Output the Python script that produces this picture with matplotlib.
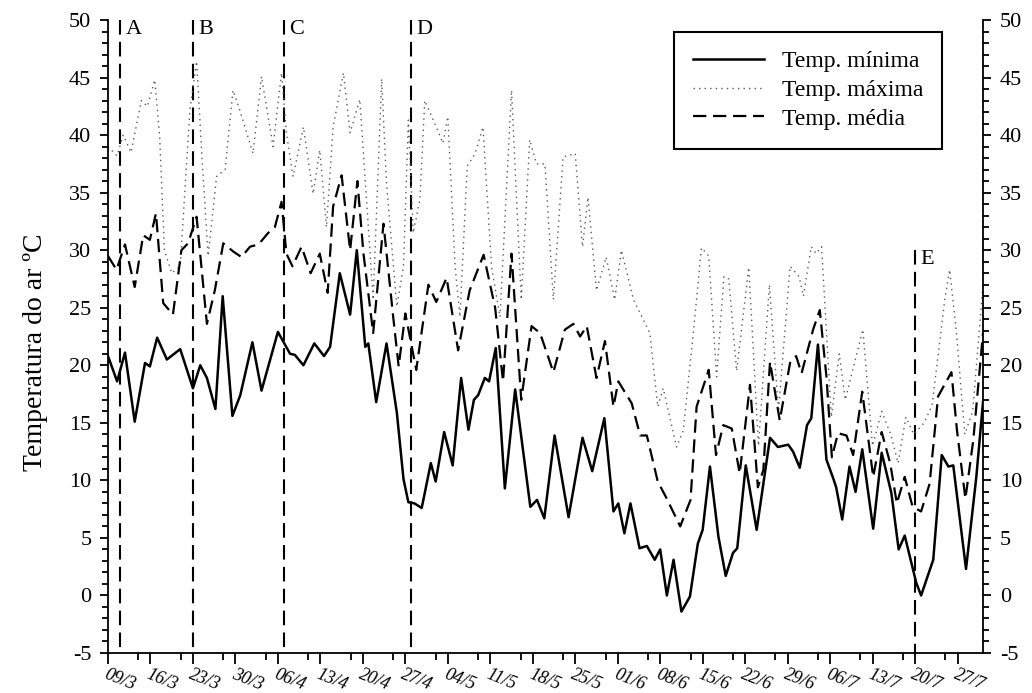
import matplotlib.pyplot as plt

plt.rcParams['font.family'] = ['Liberation Serif', 'DejaVu Serif']
plt.rcParams['axes.unicode_minus'] = False

# days counted from 09/3
min_days = [0, 1.5, 2.8, 4.4, 6.1, 6.9, 8.1, 9.7, 11.9, 14.0, 15.2, 16.3, 17.7, 18.9, 20.5,
            21.8, 23.8, 25.3, 28.0, 30.0, 30.8, 32.2, 34.0, 35.6, 36.6, 38.2, 39.9, 41.0,
            42.4, 42.9, 44.2, 45.9, 47.6, 48.7, 49.5, 50.5, 51.7, 53.2, 54.0, 55.4, 56.8,
            58.2, 59.4, 60.3, 61.0, 62.1, 62.8, 63.9, 65.4, 67.1, 69.6, 70.7, 71.9, 73.6,
            75.9, 78.2, 79.8, 81.8, 83.3, 84.1, 85.1, 86.1, 87.6, 88.8, 90.1, 91.0, 92.1,
            93.2, 94.5, 95.9, 97.2, 98.0, 99.2, 100.6, 101.8, 103.0, 103.7, 105.1, 106.9,
            109.1, 110.4, 112.1, 112.9, 114.0, 115.2, 115.9, 117.0, 118.4, 119.5, 120.0,
            121.0, 122.2, 123.2, 124.3, 126.1, 127.5, 129.1, 130.3, 131.3, 133.2, 134.0,
            136.0, 137.4, 138.5, 139.3, 141.4, 143.1, 144.2]
min_temp = [20.8, 18.6, 21.1, 15.1, 20.2, 19.9, 22.4, 20.5, 21.4, 18.0, 20.0, 18.9, 16.2, 26.0, 15.6,
            17.4, 22.0, 17.8, 22.9, 21.0, 20.9, 20.0, 21.9, 20.8, 21.6, 28.0, 24.4, 30.0,
            21.6, 21.9, 16.8, 21.9, 15.9, 10.1, 8.1, 8.0, 7.6, 11.5, 9.9, 14.2, 11.3,
            18.9, 14.4, 17.0, 17.4, 18.9, 18.6, 21.5, 9.3, 17.9, 7.7, 8.3, 6.7, 13.9,
            6.8, 13.7, 10.8, 15.4, 7.3, 8.0, 5.4, 8.0, 4.1, 4.3, 3.1, 4.0, 0.0,
            3.1, -1.4, -0.1, 4.5, 5.7, 11.2, 5.1, 1.7, 3.7, 4.1, 11.3, 5.7,
            13.7, 12.9, 13.1, 12.5, 11.1, 14.8, 15.4, 21.8, 11.8, 10.2, 9.4,
            6.6, 11.2, 9.0, 12.7, 5.8, 12.4, 8.9, 4.0, 5.2, 1.1, 0.0,
            3.1, 12.2, 11.2, 11.3, 2.3, 10.3, 16.8]

max_days = [0, 1.5, 2.5, 3.8, 5.5, 6.5, 7.7, 8.5, 9.3, 10.5, 11.9, 13.5, 14.6, 15.5, 16.5,
            17.9, 19.3, 20.6, 21.7, 23.9, 25.3, 27.2, 28.6, 29.4, 30.5, 32.2, 33.8, 34.9,
            36.0, 37.1, 38.8, 39.9, 41.5, 42.6, 43.7, 45.1, 45.9, 47.6, 48.7, 49.5, 50.3,
            51.4, 52.2, 54.1, 55.2, 56.0, 57.2, 58.0, 59.2, 60.5, 61.8, 63.2, 64.6, 66.5,
            68.1, 69.5, 70.6, 72.0, 73.4, 75.0, 77.0, 78.2, 79.1, 80.5, 82.1, 83.5, 84.6,
            86.6, 89.3, 90.6, 91.5, 93.7, 94.8, 96.5, 97.8, 99.0, 100.3, 101.5, 102.3, 103.6,
            105.6, 107.2, 109.0, 110.5, 112.4, 113.9, 114.6, 115.9, 116.7, 117.6, 119.2,
            120.5, 121.5, 124.4, 126.0, 127.5, 129.0, 130.2, 131.5, 132.8, 134.5, 135.8,
            137.9, 138.7, 139.8, 141.2, 142.5, 144.2]
max_temp = [39.0, 38.2, 40.0, 38.5, 43.0, 42.5, 44.8, 40.0, 30.0, 28.0, 28.6, 42.2, 46.4, 38.0, 29.5,
            36.4, 37.0, 43.9, 42.2, 38.4, 45.1, 39.0, 45.4, 40.2, 36.4, 40.7, 34.9, 38.7,
            32.0, 40.7, 45.4, 40.2, 43.1, 34.4, 25.7, 44.9, 35.8, 25.1, 28.6, 41.3, 31.5,
            34.4, 43.0, 40.7, 39.3, 41.6, 28.6, 24.2, 37.3, 38.4, 40.7, 28.6, 24.2, 43.9,
            25.7, 39.6, 37.5, 37.5, 25.7, 38.1, 38.4, 30.3, 34.6, 26.5, 29.4, 25.7, 30.0,
            25.7, 22.8, 16.4, 18.0, 12.9, 14.3, 23.0, 30.2, 29.5, 19.0, 27.7, 27.5, 19.5,
            28.5, 13.0, 27.0, 16.0, 28.6, 27.7, 26.0, 30.3, 29.7, 30.3, 15.5,
            21.0, 17.0, 23.1, 13.0, 16.0, 14.0, 11.5, 15.5, 14.0, 15.0, 16.5,
            25.7, 28.3, 23.0, 14.0, 16.0, 27.0]

mean_days = [0, 1.4, 2.8, 4.4, 5.8, 6.9, 7.9, 9.1, 10.7, 12.1, 13.2, 14.6, 16.3, 17.6, 19.0,
             20.6, 22.0, 23.4, 24.8, 26.4, 27.5, 28.6, 29.4, 30.4, 31.9, 33.4, 34.9, 36.2,
             37.1, 38.5, 39.9, 41.1, 42.1, 43.7, 45.4, 47.0, 47.9, 49.0, 50.8, 52.8, 54.1,
             55.8, 57.7, 59.6, 61.9, 63.8, 65.1, 66.5, 68.1, 69.8, 71.2, 73.4, 75.3, 76.7,
             77.8, 78.9, 80.5, 81.9, 83.3, 84.1, 86.3, 87.7, 88.8, 90.6, 92.0, 94.3, 96.0,
             97.0, 99.0, 100.2, 101.4, 102.8, 104.1, 105.8, 107.1, 108.0, 109.1, 110.7,
             112.4, 113.4, 114.3, 116.2, 117.3, 118.4, 119.3, 120.3, 121.7, 122.8, 124.3,
             126.1, 127.5, 128.9, 130.0, 131.3, 132.6, 134.0, 135.4, 136.8, 139.0, 139.9,
             141.3, 142.6, 144.2]
mean_temp = [29.5, 28.3, 30.5, 26.8, 31.3, 30.9, 33.2, 25.4, 24.4, 30.0, 30.6, 32.9, 23.6, 26.5, 30.6,
             29.9, 29.4, 30.3, 30.5, 31.5, 32.0, 34.2, 29.7, 28.6, 30.3, 28.0, 29.7, 26.3,
             33.8, 36.5, 30.0, 36.0, 29.7, 22.8, 32.3, 24.2, 19.9, 24.5, 19.6, 27.0, 25.5,
             27.6, 21.3, 26.5, 29.6, 25.0, 18.6, 29.7, 17.0, 23.4, 22.8, 19.4, 23.1, 23.6,
             22.5, 23.4, 18.9, 22.1, 16.4, 18.6, 16.7, 13.9, 13.9, 9.9, 8.5, 6.0, 8.3,
             16.4, 19.6, 12.2, 14.8, 14.5, 10.6, 18.3, 9.4, 10.9, 20.3, 15.2,
             20.2, 20.8, 19.3, 23.1, 24.8, 19.0, 12.0, 14.1, 13.9, 12.2, 17.7,
             10.3, 14.2, 11.5, 8.0, 10.3, 7.7, 7.3, 9.7, 17.3, 19.4, 14.4,
             8.4, 13.5, 22.8]

phase_names = ['A', 'B', 'C', 'D', 'E']
phase_days = [2, 14, 29, 50, 133]
phase_tops = [50, 50, 50, 50, 30]

tick_days = list(range(0, 141, 7))
tick_labels = ['09/3', '16/3', '23/3', '30/3', '06/4', '13/4', '20/4', '27/4', '04/5', '11/5',
               '18/5', '25/5', '01/6', '08/6', '15/6', '22/6', '29/6', '06/7', '13/7', '20/7', '27/7']

fig = plt.figure(figsize=(10.32, 6.93), dpi=100)
ax = fig.add_axes([108 / 1032, 40 / 693, 875 / 1032, 633 / 693])

# phase markers
for name, day, top in zip(phase_names, phase_days, phase_tops):
    ax.plot([day, day], [top, -5], color='black', lw=1.5, linestyle=(0, (7, 3.5)))
    ax.text(day + 0.9, top, name, ha='left', va='top', fontsize=16)

ax.plot(min_days, min_temp, color='black', lw=1.8, label='Temp. mínima')
ax.plot(max_days, max_temp, color='0.35', lw=1.0, linestyle=(0, (1, 3)), label='Temp. máxima')
ax.plot(mean_days, mean_temp, color='black', lw=1.6, linestyle=(0, (6, 3)), label='Temp. média')

ax.set_xlim(0, 144.2)
ax.set_ylim(-5, 50)

ax.set_xticks(tick_days)
ax.set_xticklabels(tick_labels, rotation=-22, ha='left', va='top', rotation_mode='anchor',
                   style='italic', fontsize=13)
ax.set_xticks([d + 5 for d in tick_days if d + 5 <= 144], minor=True)
ax.set_yticks(range(-5, 51, 5))
ax.set_yticks(range(-5, 51), minor=True)

ax.tick_params(which='both', direction='out', right=True, labelright=True, width=1.3)
ax.tick_params(axis='y', which='major', length=6, labelsize=16, pad=6)
ax.tick_params(axis='y', which='minor', length=4)
ax.tick_params(axis='x', which='major', length=8, pad=1)
ax.tick_params(axis='x', which='minor', length=5)

ax.spines['top'].set_visible(False)
for s in ['left', 'right', 'bottom']:
    ax.spines[s].set_linewidth(1.3)

ax.set_ylabel('Temperatura do ar ºC', fontsize=20)
ax.yaxis.set_label_coords(-0.068, 0.475)

leg = ax.legend(loc='upper right', bbox_to_anchor=(0.953, 0.981), borderaxespad=0,
                fontsize=17, handlelength=3.0, handletextpad=0.75, labelspacing=0.3,
                borderpad=0.8, fancybox=False, framealpha=1)
leg.get_frame().set_edgecolor('black')
leg.get_frame().set_linewidth(1.5)

fig.savefig('out.png', dpi=100)
